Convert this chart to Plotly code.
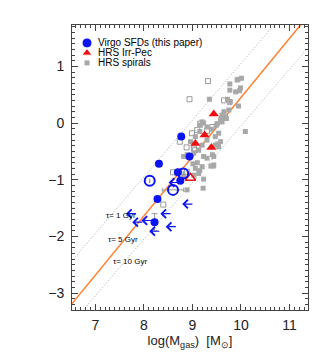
import plotly.graph_objects as go

# Virgo SFDs (this paper) - filled blue circles
virgo_x = [8.77, 8.94, 8.31, 8.70, 8.75, 8.28, 8.22]
virgo_y = [-0.24, -0.59, -0.72, -0.87, -1.02, -1.34, -1.75]
virgo_yerr = [0, 0, 0, 0, 0, 0, 0.15]

# Virgo SFDs - open circles
virgo_open_x = [8.12, 8.60, 8.81]
virgo_open_y = [-1.02, -1.18, -0.89]
virgo_open_xerr = [0, 0.22, 0]

# Virgo SFDs - upper limits in gas mass (tail of the arrow)
lim_x = [8.75, 9.03, 7.87, 8.58, 8.00, 8.19, 8.69, 8.35]
lim_y = [-1.05, -1.43, -1.60, -1.60, -1.75, -1.72, -1.83, -1.91]
lim_len = 0.24

# HRS Irr-Pec
irr_x = [9.44, 9.25, 9.06, 9.39]
irr_y = [0.16, -0.21, -0.36, -0.43]
irr_open_x = [8.96]
irr_open_y = [-0.97]

# HRS spirals - filled
spi_x = [9.35, 9.23, 9.16, 9.20, 9.30, 9.39, 9.49, 9.58, 9.61, 9.68, 9.75, 9.78,
         9.72, 9.89, 9.77, 9.77, 9.92, 9.54, 9.47, 9.58, 9.30, 9.15, 9.06, 8.96,
         9.20, 9.47, 9.54, 9.52, 9.13, 9.03, 8.82, 8.89, 9.41, 9.30, 9.10, 9.01,
         9.38, 9.44, 9.20, 9.06, 9.15, 9.03, 9.13, 9.23, 8.75, 9.22, 8.89, 8.82,
         9.94, 10.01, 9.97, 9.95, 10.09, 9.77, 9.65, 9.70, 9.59, 9.51, 9.61, 9.23,
         9.44, 9.43, 9.99]
spi_y = [0.42, 0.00, -0.04, 0.02, -0.07, -0.11, -0.04, 0.05, 0.14, 0.11, 0.23, 0.38,
         0.42, 0.55, 0.58, 0.69, 0.76, -0.18, -0.24, -0.33, -0.30, -0.15, -0.24, -0.33,
         -0.39, -0.39, -0.42, -0.37, -0.48, -0.53, -0.59, -0.56, -0.56, -0.62, -0.70, -0.72,
         -0.76, -0.74, -0.77, -0.80, -0.84, -0.92, -0.89, -0.99, -1.00, -1.15, -1.18, -0.94,
         0.77, 0.79, 0.57, 0.30, -0.15, 0.36, 0.20, 0.08, 0.08, -0.01, 0.02, -0.59,
         -0.59, -0.76, 0.62]

# HRS spirals - open
spo_x = [9.32, 8.94, 9.65, 8.99, 8.74, 9.41, 8.88, 9.10, 9.16, 9.03, 9.30, 8.60,
         8.89, 8.40, 9.05]
spo_y = [0.74, 0.42, 0.40, -0.18, -0.33, -0.07, -0.43, -0.12, -0.01, -0.45, -0.14, -0.87,
         -0.86, -1.44, -0.48]

# relations
fit_slope, fit_icpt = 1.045, -10.0
tau_icpt = [-8.95, -10.05]
line_x = [6.5, 11.4]

tau_text = ["\u03c4= 1 Gyr", "\u03c4= 5 Gyr", "\u03c4= 10 Gyr"]
tau_tx = [7.53, 7.58, 7.72]
tau_ty = [-1.64, -2.05, -2.45]

# legend
leg_names = ["Virgo SFDs (this paper)", "HRS Irr-Pec", "HRS spirals"]
leg_symbols = ["circle", "triangle-up", "square"]
leg_sizes = [10, 9, 6]
leg_y = [0.937, 0.902, 0.867]

BLUE = "#0a14f0"
RED = "#f01010"
GREY = "#a8a8a8"
FONT = "Liberation Sans"
leg_colors = [BLUE, RED, GREY]

fig = go.Figure()

for c in tau_icpt:
    fig.add_trace(go.Scatter(
        x=line_x, y=[x + c for x in line_x], mode="lines",
        line=dict(color="#aaaaaa", width=1, dash="1px,2px"), hoverinfo="skip"))

fig.add_trace(go.Scatter(
    x=line_x, y=[fit_slope * x + fit_icpt for x in line_x], mode="lines",
    line=dict(color="#ff7f30", width=1.5), hoverinfo="skip"))

fig.add_trace(go.Scatter(
    x=spo_x, y=spo_y, mode="markers",
    marker=dict(symbol="square-open", size=5, color="#9a9a9a", line=dict(width=1))))
fig.add_trace(go.Scatter(
    x=spi_x, y=spi_y, mode="markers",
    marker=dict(symbol="square", size=5, color=GREY)))

fig.add_trace(go.Scatter(
    x=irr_open_x, y=irr_open_y, mode="markers",
    marker=dict(symbol="triangle-up-open", size=9, color=RED, line=dict(width=1.5))))
fig.add_trace(go.Scatter(
    x=irr_x, y=irr_y, mode="markers",
    marker=dict(symbol="triangle-up", size=9, color=RED)))

fig.add_trace(go.Scatter(
    x=virgo_open_x, y=virgo_open_y, mode="markers",
    error_x=dict(type="data", array=virgo_open_xerr, color="#999999", thickness=1, width=2),
    marker=dict(symbol="circle-open", size=10, color=BLUE, line=dict(width=2))))
fig.add_trace(go.Scatter(
    x=virgo_x, y=virgo_y, mode="markers",
    error_y=dict(type="data", array=virgo_yerr, color="#999999", thickness=1, width=3),
    marker=dict(symbol="circle", size=8, color=BLUE, opacity=1)))

for x, y in zip(lim_x, lim_y):
    fig.add_annotation(x=x - lim_len, y=y, ax=x, ay=y, axref="x", ayref="y",
                       text="", showarrow=True, arrowhead=4, arrowsize=1.4,
                       arrowwidth=1.2, arrowcolor=BLUE)

for t, x, y in zip(tau_text, tau_tx, tau_ty):
    fig.add_annotation(x=x, y=y, text=t, showarrow=False,
                       font=dict(family=FONT, size=8, color="black"))

# legend drawn on a hidden overlay axis in the plot's frame
fig.add_trace(go.Scatter(
    x=[0.0636] * 3, y=leg_y, xaxis="x2", yaxis="y2", mode="markers",
    marker=dict(symbol=leg_symbols, size=leg_sizes, color=leg_colors, opacity=1)))
for name, y in zip(leg_names, leg_y):
    fig.add_annotation(x=0.1, y=y, xref="x2", yref="y2", text=name, showarrow=False,
                       xanchor="left", yanchor="middle",
                       font=dict(family=FONT, size=10, color="black"))

axis = dict(showline=True, linecolor="#444", linewidth=1, mirror="ticks",
            ticks="inside", ticklen=6, tickcolor="#444", showgrid=False, zeroline=False,
            tickfont=dict(family=FONT, size=14, color="#222"),
            minor=dict(ticks="inside", ticklen=3, dtick=0.1, tickcolor="#444"))

fig.update_layout(
    width=330, height=360,
    margin=dict(l=64, r=30, t=17, b=58),
    paper_bgcolor="white", plot_bgcolor="white",
    showlegend=False,
    xaxis=dict(range=[6.52, 11.38], dtick=1, tick0=7, ticklabelstandoff=2,
               title=dict(text="log(M<sub>gas</sub>)  [M<sub>\u2299</sub>]",
                          font=dict(family=FONT, size=13, color="#222"), standoff=0),
               **axis),
    yaxis=dict(range=[-3.3, 1.73], dtick=1, tick0=0, ticklabelstandoff=4, **axis),
    xaxis2=dict(overlaying="x", range=[0, 1], visible=False, anchor="y2"),
    yaxis2=dict(overlaying="y", range=[0, 1], visible=False, anchor="x2"),
)

fig.write_html("out.html")
